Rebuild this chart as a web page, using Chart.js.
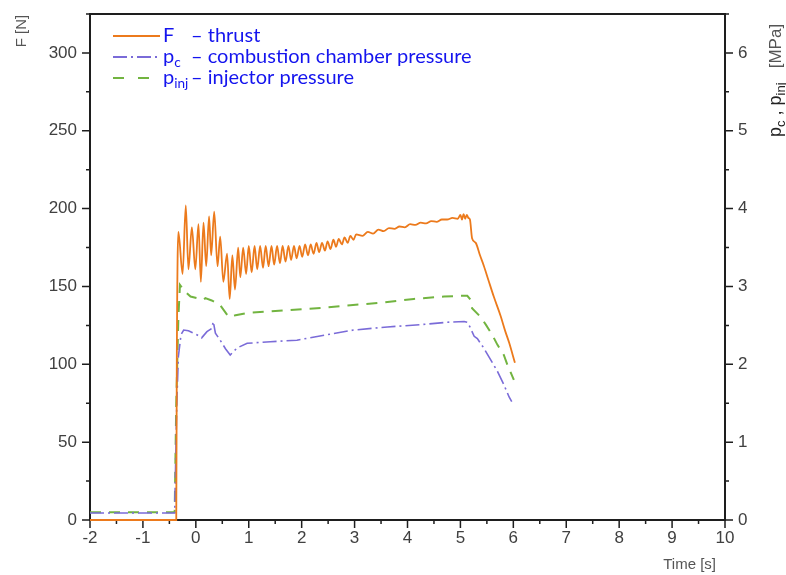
<!DOCTYPE html>
<html>
<head>
<meta charset="utf-8">
<script src="https://cdn.jsdelivr.net/npm/chart.js@4"></script>
<style>
  html, body { margin: 0; padding: 0; background: #fff; }
  canvas { display: block; }
</style>
</head>
<body>
<canvas id="chart-motor" width="786" height="575"></canvas>
<script>
// Datos: tiempo [s], empuje [N], presiones [MPa]
const thrustTime = [-2, -0.37, -0.36, -0.33, -0.25, -0.19, -0.14, -0.075, -0.01, 0.05, 0.095, 0.145, 0.196, 0.25, 0.29, 0.347, 0.41, 0.46, 0.52, 0.59, 0.64, 0.69, 0.74, 0.80, 0.84,
  0.895, 0.95, 1.00, 1.055, 1.11, 1.16, 1.215, 1.27, 1.32, 1.375, 1.43, 1.48, 1.535, 1.59, 1.64, 1.695, 1.75, 1.80, 1.855, 1.905, 1.96, 2.01, 2.065, 2.12, 2.17, 2.225, 2.28, 2.33, 2.385, 2.44, 2.49, 2.545, 2.60, 2.65, 2.70, 2.76, 2.81, 2.87, 2.92, 2.98, 3.03,
  3.15, 3.25, 3.35, 3.45, 3.55, 3.65, 3.75, 3.85, 3.95, 4.05, 4.15, 4.25, 4.35, 4.45, 4.55, 4.65, 4.75, 4.85, 4.95, 5.0, 5.03, 5.06, 5.09, 5.12, 5.15, 5.18,
  5.22, 5.29, 5.37, 5.445, 5.53, 5.63, 5.76, 5.85, 5.92, 6.03];
const thrustValues = [0, 0, 100, 185, 158, 202, 161, 188, 161, 190, 153, 191, 163, 195, 170, 198, 163, 182, 153, 171, 142, 170, 148, 175, 156,
  175, 158, 176, 159, 176, 161, 176, 162, 176, 163, 176, 164, 176, 165, 176, 166, 176, 167, 176, 168, 176, 169, 177, 170, 177, 171, 178, 172, 178, 173, 179, 174, 180, 175.5, 180.5, 177, 181.5, 178, 182.5, 180, 183.5,
  182.5, 185, 184, 186.5, 185.5, 187.5, 187, 188.5, 188, 190, 189.5, 191, 190.5, 192, 191.5, 193, 193, 194, 193.5, 196, 193, 196.5, 193.5, 196, 194, 193,
  181, 178, 170, 163, 154, 143.5, 131, 121, 114, 101];

const pcTime = [-2, -0.40, -0.36, -0.33, -0.28, -0.23, -0.14, 0.02, 0.11, 0.21, 0.30, 0.33, 0.37, 0.46, 0.56, 0.65, 0.78, 0.97, 1.41, 1.91, 2.48, 2.98, 3.62, 4.25, 4.75, 5.07, 5.13, 5.18, 5.26, 5.32, 5.44, 5.57, 5.70, 5.82, 5.92, 5.97];
const pcValues = [0.09, 0.09, 1.5, 2.1, 2.38, 2.44, 2.43, 2.38, 2.34, 2.42, 2.46, 2.55, 2.40, 2.31, 2.20, 2.12, 2.21, 2.27, 2.29, 2.31, 2.38, 2.44, 2.48, 2.51, 2.54, 2.55, 2.54, 2.48, 2.36, 2.33, 2.21, 2.06, 1.91, 1.74, 1.58, 1.52];

const pinjTime = [-2, -0.40, -0.37, -0.33, -0.30, -0.20, -0.10, 0.02, 0.145, 0.18, 0.30, 0.46, 0.62, 0.75, 0.97, 1.41, 2.04, 2.48, 2.92, 3.49, 4.12, 4.69, 5.0, 5.13, 5.19, 5.22, 5.38, 5.48, 5.60, 5.70, 5.82, 5.89, 6.01];
const pinjValues = [0.10, 0.10, 1.5, 2.6, 3.02, 2.93, 2.87, 2.85, 2.83, 2.85, 2.82, 2.76, 2.61, 2.63, 2.66, 2.68, 2.71, 2.73, 2.76, 2.79, 2.84, 2.87, 2.88, 2.88, 2.83, 2.72, 2.61, 2.51, 2.38, 2.25, 2.12, 1.99, 1.80];

// Ejes
const xTicks = [-2, -1, 0, 1, 2, 3, 4, 5, 6, 7, 8, 9, 10];
const leftTicks = [0, 50, 100, 150, 200, 250, 300];
const rightTicks = [0, 1, 2, 3, 4, 5, 6];

const colorThrust = '#EC7A1C';
const colorPc = '#7A6BD8';
const colorPinj = '#72B440';
const dashPc = [14, 4, 2, 4];
const dashPinj = [11, 8];

const toPoints = (xs, ys) => xs.map((t, i) => ({ x: t, y: ys[i] }));

// Marco, ticks menores y textos con subindices
const framePlugin = {
    id: 'framePlugin',
    beforeDatasetsDraw(chart) {
        const ctx = chart.ctx;
        const a = chart.chartArea;
        const sx = chart.scales.x, sy = chart.scales.y, sy2 = chart.scales.y2;
        ctx.save();
        ctx.strokeStyle = '#1e1e1e';
        ctx.lineWidth = 1.5;
        ctx.beginPath();
        const tick = (x1, y1, x2, y2) => { ctx.moveTo(x1, y1); ctx.lineTo(x2, y2); };
        // eje x: mayores y menores
        xTicks.forEach((v, i) => {
            const px = sx.getPixelForValue(v);
            tick(px, a.bottom, px, a.bottom + 8);
            if (i < xTicks.length - 1) {
                const pm = sx.getPixelForValue((v + xTicks[i + 1]) / 2);
                tick(pm, a.bottom, pm, a.bottom + 4);
            }
        });
        leftTicks.forEach(v => {
            const py = sy.getPixelForValue(v);
            tick(a.left - 8, py, a.left, py);
            const pm = sy.getPixelForValue(v + 25);
            if (v + 25 <= sy.max) tick(a.left - 4, pm, a.left, pm);
        });
        rightTicks.forEach(v => {
            const py = sy2.getPixelForValue(v);
            tick(a.right, py, a.right + 8, py);
            const pm = sy2.getPixelForValue(v + 0.5);
            if (v + 0.5 <= sy2.max) tick(a.right, pm, a.right + 4, pm);
        });
        ctx.stroke();
        ctx.lineWidth = 2;
        ctx.strokeRect(a.left, a.top, a.right - a.left, a.bottom - a.top);
        ctx.restore();
    },
    afterDraw(chart) {
        const ctx = chart.ctx;
        ctx.save();

        // Titulo eje izquierdo
        ctx.fillStyle = '#555';
        ctx.font = '15px "Liberation Sans", Arial, sans-serif';
        ctx.translate(22, 31);
        ctx.rotate(-Math.PI / 2);
        ctx.textAlign = 'center';
        ctx.textBaseline = 'middle';
        ctx.fillText('F [N]', 0, 0);
        ctx.setTransform(1, 0, 0, 1, 0, 0);

        // Titulo eje x
        ctx.textAlign = 'right';
        ctx.fillText('Time [s]', 716, 565);

        // Titulo eje derecho con subindices
        ctx.translate(776, 137);
        ctx.rotate(-Math.PI / 2);
        ctx.textAlign = 'left';
        ctx.textBaseline = 'middle';
        const big = '18px "Liberation Sans", Arial, sans-serif';
        const small = '13px "Liberation Sans", Arial, sans-serif';
        let cx = 0;
        const piece = (txt, font, color, dy) => {
            ctx.font = font; ctx.fillStyle = color;
            ctx.fillText(txt, cx, dy);
            cx += ctx.measureText(txt).width;
        };
        piece('p', big, '#222', 0);
        piece('c', small, '#222', 5);
        piece(' , ', big, '#222', 0);
        piece('p', big, '#222', 0);
        piece('inj', small, '#222', 5);
        piece('   [MPa]', '17px "Liberation Sans", Arial, sans-serif', '#555', 0);
        ctx.setTransform(1, 0, 0, 1, 0, 0);

        // Leyenda
        const rows = [
            { y: 36, color: colorThrust, dash: [], sym: 'F', sub: '', desc: '\u2013 thrust' },
            { y: 57, color: colorPc, dash: dashPc, sym: 'p', sub: 'c', desc: '\u2013 combustion chamber pressure' },
            { y: 78, color: colorPinj, dash: [11, 14], sym: 'p', sub: 'inj', desc: '\u2013 injector pressure' }
        ];
        ctx.font = '18px Lato, "Open Sans", sans-serif';
        const wTarget = 281;
        const fs = 18 * wTarget / ctx.measureText(rows[1].desc).width;
        const legFont = fs.toFixed(1) + 'px Lato, "Open Sans", sans-serif';
        const subFont = (fs * 0.68).toFixed(1) + 'px Lato, "Open Sans", sans-serif';
        rows.forEach(r => {
            ctx.strokeStyle = r.color;
            ctx.lineWidth = 2;
            ctx.setLineDash(r.dash);
            ctx.beginPath();
            ctx.moveTo(113, r.y);
            ctx.lineTo(160, r.y);
            ctx.stroke();
            ctx.setLineDash([]);
            ctx.fillStyle = '#1414EE';
            ctx.textBaseline = 'middle';
            ctx.textAlign = 'left';
            ctx.font = legFont;
            ctx.fillText(r.sym, 163, r.y);
            const w = ctx.measureText(r.sym).width;
            if (r.sub) {
                ctx.font = subFont;
                ctx.fillText(r.sub, 163 + w, r.y + 6);
            }
            ctx.font = legFont;
            ctx.fillText(r.desc, 191, r.y);
        });
        ctx.restore();
    }
};

const tickFont = { family: '"Liberation Sans", Arial, sans-serif', size: 17 };
const fitVertical = w => s => { s.width = w; s.paddingTop = 0; s.paddingBottom = 0; };

new Chart(document.getElementById('chart-motor').getContext('2d'), {
    type: 'line',
    data: {
        datasets: [
            {
                label: 'F',
                data: toPoints(thrustTime, thrustValues),
                yAxisID: 'y',
                borderColor: colorThrust,
                borderWidth: 1.8,
                pointRadius: 0,
                cubicInterpolationMode: 'monotone',
                clip: 4
            },
            {
                label: 'pc',
                data: toPoints(pcTime, pcValues),
                yAxisID: 'y2',
                borderColor: colorPc,
                borderWidth: 1.6,
                borderDash: dashPc,
                pointRadius: 0,
                tension: 0,
                clip: 4
            },
            {
                label: 'pinj',
                data: toPoints(pinjTime, pinjValues),
                yAxisID: 'y2',
                borderColor: colorPinj,
                borderWidth: 2,
                borderDash: dashPinj,
                pointRadius: 0,
                tension: 0,
                clip: 4
            }
        ]
    },
    options: {
        responsive: false,
        animation: false,
        devicePixelRatio: 1,
        layout: { padding: { top: 14, left: 0, right: 0, bottom: 0 } },
        plugins: { legend: { display: false }, tooltip: { enabled: false } },
        scales: {
            x: {
                type: 'linear',
                min: -2, max: 10,
                grid: { display: false, drawTicks: false },
                border: { display: false },
                afterBuildTicks: s => { s.ticks = xTicks.map(v => ({ value: v })); },
                afterFit: s => { s.height = 55; s.paddingLeft = 0; s.paddingRight = 0; },
                ticks: { color: '#404040', font: tickFont, padding: 8, maxRotation: 0 }
            },
            y: {
                position: 'left',
                min: 0, max: 325,
                grid: { display: false, drawTicks: false },
                border: { display: false },
                afterBuildTicks: s => { s.ticks = leftTicks.map(v => ({ value: v })); },
                afterFit: fitVertical(90),
                ticks: { color: '#404040', font: tickFont, padding: 13 }
            },
            y2: {
                position: 'right',
                min: 0, max: 6.5,
                grid: { display: false, drawTicks: false },
                border: { display: false },
                afterBuildTicks: s => { s.ticks = rightTicks.map(v => ({ value: v })); },
                afterFit: fitVertical(61),
                ticks: { color: '#404040', font: tickFont, padding: 13 }
            }
        }
    },
    plugins: [framePlugin]
});
</script>
</body>
</html>
